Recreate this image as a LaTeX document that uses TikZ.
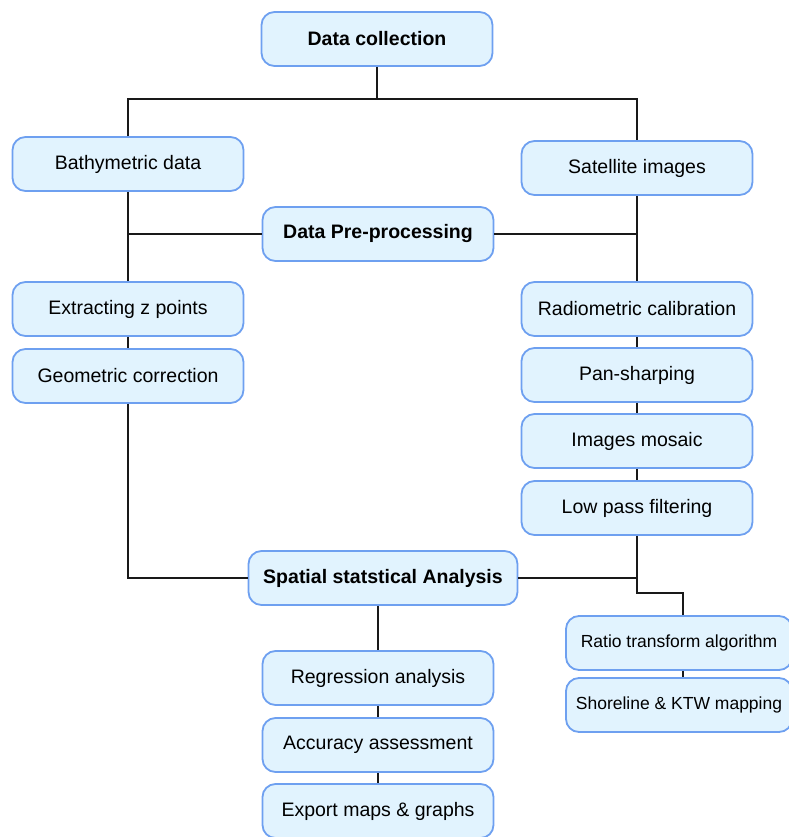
\documentclass[tikz,border=0pt]{standalone}
\usepackage{fontspec}
\setmainfont{Liberation Sans}
\usepackage{xcolor}
\usepackage{tikz}
\usetikzlibrary{positioning, calc}
\definecolor{boxfill}{RGB}{225, 243, 254}
\definecolor{boxline}{RGB}{110, 160, 240}
\definecolor{linkgray}{RGB}{25, 25, 25}

\begin{document}
\begin{tikzpicture}[x=1pt, y=-1pt,
    box/.style={rectangle, rounded corners=13pt, fill=boxfill, draw=boxline, line width=1.8pt, minimum width=231pt, minimum height=54pt, align=center, font=\fontsize{19.5}{23}\selectfont},
    head/.style={box, font=\fontsize{19.5}{23}\selectfont\bfseries},
    side/.style={box, minimum width=226pt, inner xsep=2pt, font=\fontsize{17.5}{21}\selectfont},
    link/.style={linkgray, line width=2.2pt}
]
    \useasboundingbox (0,0) rectangle (788,837);

    % Top
    \node[head] (dc) at (377, 39) {Data collection};
    \node[box] (bd) at (128, 164) {Bathymetric data};
    \node[box] (si) at (637, 168) {Satellite images};
    \node[head] (dp) at (378, 234) {Data Pre-processing};

    % Left branch
    \node[box] (ez) at (128, 309) {Extracting z points};
    \node[box] (gc) at (128, 376) {Geometric correction};

    % Right branch
    \node[box] (rc) at (637, 309) {Radiometric calibration};
    \node[box] (ps) at (637, 375) {Pan-sharping};
    \node[box] (im) at (637, 441) {Images mosaic};
    \node[box] (lp) at (637, 508) {Low pass filtering};

    % Analysis
    \node[head, minimum width=269pt] (sa) at (383, 578) {Spatial statstical Analysis};
    \node[box] (ra) at (378, 678) {Regression analysis};
    \node[box] (aa) at (378, 745) {Accuracy assessment};
    \node[box] (em) at (378, 811) {Export maps \& graphs};
    \node[side] (rt) at (679, 643) {Ratio transform algorithm};
    \node[side] (sk) at (679, 705) {Shoreline \& KTW mapping};

    % Links
    \coordinate (split) at (377, 99);
    \draw[link] (dc) -- (split);
    \draw[link] (bd.north) |- (split) -| (si.north);
    \draw[link] (bd) -- (ez);
    \draw[link] (si) -- (rc);
    \draw[link] (dp.west) -- (dp.west -| bd.south);
    \draw[link] (dp.east) -- (dp.east -| si.south);
    \draw[link] (ez) -- (gc);
    \draw[link] (gc.south) |- (sa.west);
    \draw[link] (rc) -- (ps);
    \draw[link] (ps) -- (im);
    \draw[link] (im) -- (lp);
    \draw[link] (sa.east) -| (lp.south);
    \draw[link] (lp.south) -- ++(0, 57) -| ([xshift=4pt]rt.north);
    \draw[link] ([xshift=4pt]rt.south) -- ([xshift=4pt]sk.north);
    \draw[link] (sa.south -| ra.north) -- (ra);
    \draw[link] (ra) -- (aa);
    \draw[link] (aa) -- (em);
\end{tikzpicture}
\end{document}
